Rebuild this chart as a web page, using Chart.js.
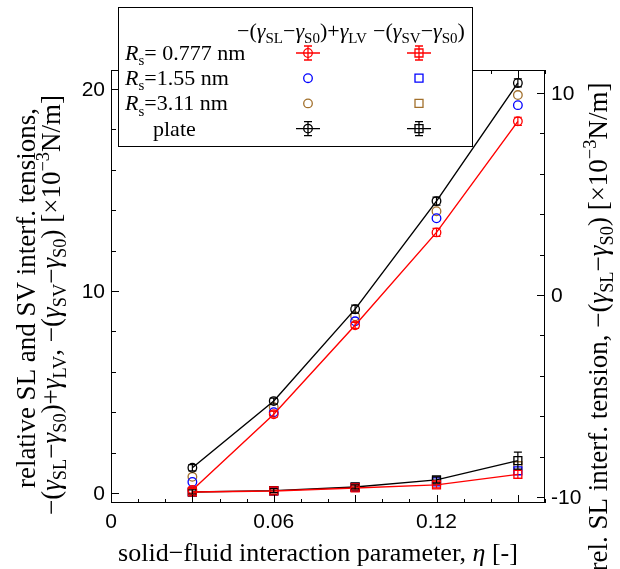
<!DOCTYPE html>
<html>
<head>
<meta charset="utf-8">
<script src="https://cdn.jsdelivr.net/npm/chart.js@4.4.1/dist/chart.umd.min.js"></script>
<style>
html, body { margin: 0; padding: 0; background: #fff; }
</style>
</head>
<body>
<canvas id="c" width="620" height="569"></canvas>
<script>
// interaction parameter values
const eta = [0.03, 0.06, 0.09, 0.12, 0.15];

// -(gSL-gS0)+gLV  (circles)
const slLv077 = [0.15, 3.9, 8.3, 12.9, 18.4];
const slLv155 = [0.55, 4.0, 8.5, 13.6, 19.2];
const slLv311 = [0.8, 4.25, 8.75, 13.95, 19.7];
const slLvPlate = [1.25, 4.55, 9.1, 14.45, 20.3];
const errSlLv077 = [0.15, 0.15, 0.15, 0.2, 0.2];
const errSlLvPlate = [0.15, 0.15, 0.2, 0.2, 0.2];

// -(gSV-gS0)  (squares)
const sv077 = [0.05, 0.1, 0.25, 0.4, 0.92];
const sv155 = [0.05, 0.1, 0.28, 0.55, 1.1];
const sv311 = [0.05, 0.1, 0.28, 0.6, 1.35];
const svPlate = [0.05, 0.12, 0.3, 0.65, 1.6];
const errSv077 = [0.15, 0.1, 0.1, 0.15, 0.2];
const errSvPlate = [0.1, 0.1, 0.1, 0.15, 0.42];

const xTickLabels = [0, 0.06, 0.12];
const yTickLabels = [0, 10, 20];
const y1TickLabels = [-10, 0, 10];

const RED = '#ff0000', BLUE = '#0000ff', BROWN = '#a2702c', BLACK = '#000000';
const SERIF = '"Liberation Serif", "Times New Roman", serif';
const SANS = '"Liberation Sans", Arial, sans-serif';

function pts(ys) {
    return eta.map((x, i) => ({x, y: ys[i]}));
}

function ds(label, ys, color, style, line, errs) {
    return {
        label, data: pts(ys), errs,
        borderColor: color, backgroundColor: 'rgba(0,0,0,0)',
        pointBorderColor: color, pointBackgroundColor: 'rgba(0,0,0,0)',
        pointStyle: style, pointRadius: style === 'rect' ? 5.6 : 4.3,
        pointBorderWidth: 1.3, showLine: line, borderWidth: line ? 1.4 : 0,
        yAxisID: 'y'
    };
}

// first dataset is drawn on top
const datasets = [
    ds('sv 0.777', sv077, RED, 'rect', true, errSv077),
    ds('sl 0.777', slLv077, RED, 'circle', true, errSlLv077),
    ds('sv plate', svPlate, BLACK, 'rect', true, errSvPlate),
    ds('sl plate', slLvPlate, BLACK, 'circle', true, errSlLvPlate),
    ds('sv 1.55', sv155, BLUE, 'rect', false),
    ds('sl 1.55', slLv155, BLUE, 'circle', false),
    ds('sv 3.11', sv311, BROWN, 'rect', false),
    ds('sl 3.11', slLv311, BROWN, 'circle', false)
];

function fontFor(f, size) {
    const s = (f === 'b' || f === 'p') ? size * 0.68 : size;
    return (f === 'i' ? 'italic ' : '') + s.toFixed(1) + 'px ' + SERIF;
}

function richWidth(ctx, parts, size) {
    let w = 0;
    parts.forEach(([t, f]) => { ctx.font = fontFor(f, size); w += ctx.measureText(t).width; });
    return w;
}

// draws text pieces: '' plain, 'i' italic, 'b' subscript, 'p' superscript
function drawRich(ctx, parts, x, y, size, align) {
    let cx = x;
    const w = richWidth(ctx, parts, size);
    if (align === 'center') cx = x - w / 2;
    ctx.textAlign = 'left';
    ctx.textBaseline = 'alphabetic';
    parts.forEach(([t, f]) => {
        ctx.font = fontFor(f, size);
        let dy = 0;
        if (f === 'b') dy = size * 0.24;
        if (f === 'p') dy = -size * 0.4;
        ctx.fillText(t, cx, y + dy);
        cx += ctx.measureText(t).width;
    });
}

function drawRotated(ctx, parts, x, cy, size) {
    ctx.save();
    ctx.translate(x, cy);
    ctx.rotate(-Math.PI / 2);
    drawRich(ctx, parts, 0, 0, size, 'center');
    ctx.restore();
}

function marker(ctx, style, color, x, y, err) {
    ctx.save();
    ctx.strokeStyle = color;
    ctx.lineWidth = 1.3;
    if (err) {
        ctx.beginPath();
        ctx.moveTo(x - 12, y); ctx.lineTo(x + 12, y);
        ctx.moveTo(x, y - 7); ctx.lineTo(x, y + 7);
        ctx.moveTo(x - 4, y - 7); ctx.lineTo(x + 4, y - 7);
        ctx.moveTo(x - 4, y + 7); ctx.lineTo(x + 4, y + 7);
        ctx.stroke();
    }
    ctx.beginPath();
    if (style === 'circle') ctx.arc(x, y, 4.3, 0, Math.PI * 2);
    else ctx.rect(x - 4, y - 4, 8, 8);
    ctx.stroke();
    ctx.restore();
}

const errorBars = {
    id: 'errorBars',
    afterDatasetsDraw(chart) {
        const ctx = chart.ctx;
        const ys = chart.scales.y;
        chart.data.datasets.forEach((d, i) => {
            if (!d.errs) return;
            const meta = chart.getDatasetMeta(i);
            ctx.save();
            ctx.strokeStyle = d.borderColor;
            ctx.lineWidth = 1.2;
            meta.data.forEach((p, j) => {
                const v = d.data[j].y, e = d.errs[j];
                const top = ys.getPixelForValue(v + e), bot = ys.getPixelForValue(v - e);
                ctx.beginPath();
                ctx.moveTo(p.x, top); ctx.lineTo(p.x, bot);
                ctx.moveTo(p.x - 4, top); ctx.lineTo(p.x + 4, top);
                ctx.moveTo(p.x - 4, bot); ctx.lineTo(p.x + 4, bot);
                ctx.stroke();
            });
            ctx.restore();
        });
    }
};

const frame = {
    id: 'frame',
    afterDraw(chart) {
        const ctx = chart.ctx;
        const a = chart.chartArea;
        const xs = chart.scales.x, ys = chart.scales.y, y1 = chart.scales.y1;
        ctx.save();
        ctx.strokeStyle = '#000';
        ctx.lineWidth = 1;
        ctx.strokeRect(a.left + 0.5, a.top + 0.5, a.right - a.left - 1, a.bottom - a.top - 1);

        // inward ticks
        ctx.beginPath();
        for (let k = 0; k <= 16; k++) {
            const px = Math.round(xs.getPixelForValue(k / 100)) + 0.5;
            const len = k % 3 === 0 ? 8 : 4;
            ctx.moveTo(px, a.bottom); ctx.lineTo(px, a.bottom - len);
            ctx.moveTo(px, a.top); ctx.lineTo(px, a.top + len);
        }
        for (let v = 0; v <= 20; v += 2) {
            const py = Math.round(ys.getPixelForValue(v)) + 0.5;
            const len = v % 10 === 0 ? 8 : 5;
            ctx.moveTo(a.left, py); ctx.lineTo(a.left + len, py);
        }
        for (let v = -10; v <= 10; v += 2) {
            const py = Math.round(y1.getPixelForValue(v)) + 0.5;
            const len = v % 10 === 0 ? 8 : 5;
            ctx.moveTo(a.right, py); ctx.lineTo(a.right - len, py);
        }
        ctx.stroke();

        // tick labels
        ctx.fillStyle = '#000';
        ctx.font = '21px ' + SANS;
        ctx.textBaseline = 'middle';
        ctx.textAlign = 'center';
        xTickLabels.forEach(v => ctx.fillText(String(v), xs.getPixelForValue(v), a.bottom + 19));
        ctx.textAlign = 'right';
        yTickLabels.forEach(v => ctx.fillText(String(v), a.left - 6, ys.getPixelForValue(v) + 1));
        ctx.textAlign = 'left';
        y1TickLabels.forEach(v => ctx.fillText(String(v), a.right + 6, y1.getPixelForValue(v) + 1));

        // axis titles
        drawRich(ctx, [['solid\u2212fluid interaction parameter, ', ''], ['\u03b7', 'i'], [' [-]', '']],
            318, 561, 26, 'center');
        drawRotated(ctx, [['relative SL and SV interf. tensions,', '']], 35, 298, 27);
        drawRotated(ctx, [['\u2212(', ''], ['\u03b3', 'i'], ['SL', 'b'], ['\u2212', ''], ['\u03b3', 'i'], ['S0', 'b'],
            [')+', ''], ['\u03b3', 'i'], ['LV', 'b'], [', \u2212(', ''], ['\u03b3', 'i'], ['SV', 'b'], ['\u2212', ''],
            ['\u03b3', 'i'], ['S0', 'b'], [') [\u00d710', ''], ['\u22123', 'p'], ['N/m]', '']], 60, 305, 27);
        drawRotated(ctx, [['rel. SL interf. tension, \u2212(', ''], ['\u03b3', 'i'], ['SL', 'b'], ['\u2212', ''],
            ['\u03b3', 'i'], ['S0', 'b'], [') [\u00d710', ''], ['\u22123', 'p'], ['N/m]', '']], 607, 327, 27);

        // legend box
        ctx.fillStyle = '#fff';
        ctx.fillRect(118, 7, 354, 139);
        ctx.strokeRect(118.5, 7.5, 354, 139);
        ctx.fillStyle = '#000';
        drawRich(ctx, [['\u2212(', ''], ['\u03b3', 'i'], ['SL', 'b'], ['\u2212', ''], ['\u03b3', 'i'], ['S0', 'b'],
            [')+', ''], ['\u03b3', 'i'], ['LV', 'b']], 302, 38, 22, 'center');
        drawRich(ctx, [['\u2212(', ''], ['\u03b3', 'i'], ['SV', 'b'], ['\u2212', ''], ['\u03b3', 'i'], ['S0', 'b'],
            [')', '']], 419, 38, 22, 'center');
        const rows = [
            [[['R', 'i'], ['s', 'b'], ['= 0.777 nm', '']], 125, RED, true],
            [[['R', 'i'], ['s', 'b'], ['=1.55 nm', '']], 125, BLUE, false],
            [[['R', 'i'], ['s', 'b'], ['=3.11 nm', '']], 125, BROWN, false],
            [[['plate', '']], 153, BLACK, true]
        ];
        rows.forEach(([parts, x, color, err], i) => {
            const yy = 53 + i * 25.2;
            ctx.fillStyle = '#000';
            drawRich(ctx, parts, x, yy + 7, 22, 'left');
            marker(ctx, 'circle', color, 308, yy, err);
            marker(ctx, 'rect', color, 419, yy, err);
        });
        ctx.restore();
    }
};

new Chart(document.getElementById('c'), {
    type: 'scatter',
    data: {datasets},
    options: {
        responsive: false,
        animation: false,
        layout: {padding: {top: 70, left: 0, right: 0, bottom: 0}},
        plugins: {legend: {display: false}, tooltip: {enabled: false}},
        scales: {
            x: {
                type: 'linear', min: 0, max: 0.16,
                grid: {display: false}, border: {display: false},
                ticks: {display: false},
                afterFit: s => { s.height = 66; }
            },
            y: {
                position: 'left', min: -0.495, max: 20.94,
                grid: {display: false}, border: {display: false},
                ticks: {display: false},
                afterFit: s => { s.width = 111; }
            },
            y1: {
                position: 'right', min: -10.3, max: 11.14,
                grid: {display: false}, border: {display: false},
                ticks: {display: false},
                afterFit: s => { s.width = 75; }
            }
        }
    },
    plugins: [errorBars, frame]
});
</script>
</body>
</html>
